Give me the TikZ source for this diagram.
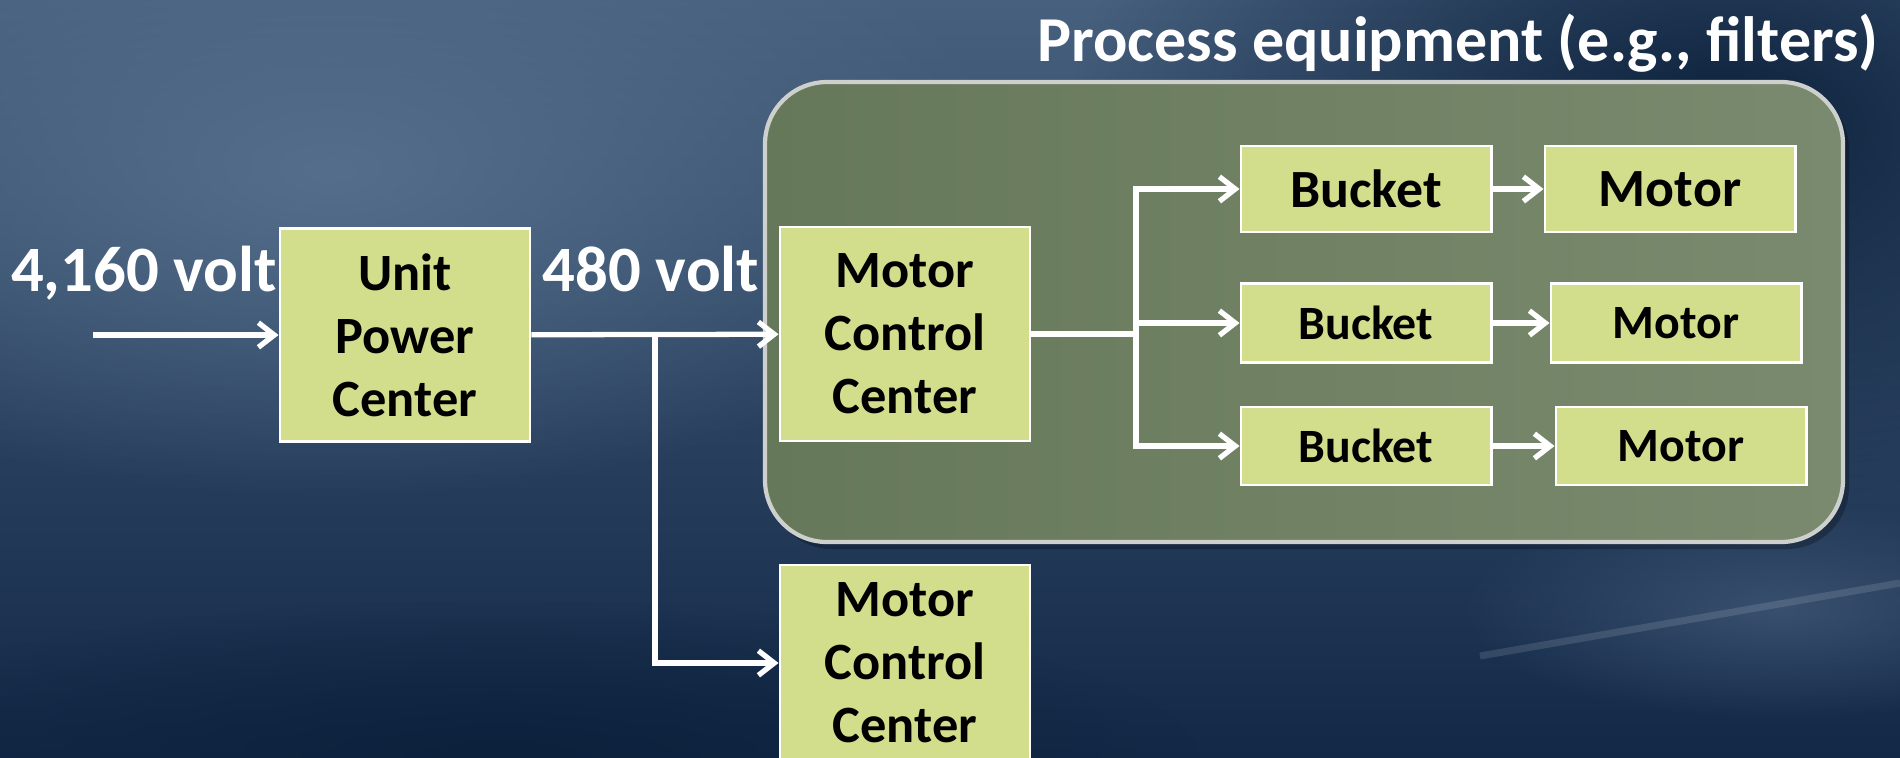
\documentclass[tikz,border=0pt]{standalone}
\usepackage{fontspec}
\setmainfont{Carlito}
\usetikzlibrary{arrows.meta,fadings}
\definecolor{bgtop}{RGB}{70,96,126}
\definecolor{bgbot}{RGB}{18,40,70}
\definecolor{bgdeep}{RGB}{12,33,60}
\definecolor{bglight}{RGB}{84,110,140}
\definecolor{paneldark}{RGB}{102,120,90}
\definecolor{panellight}{RGB}{122,138,110}
\definecolor{panelrim}{RGB}{205,208,204}
\definecolor{boxfill}{RGB}{211,222,140}
\newcommand{\boxfont}{\fontsize{14.9}{17.9}\selectfont\bfseries}
\newcommand{\smallboxfont}{\fontsize{13.6}{16}\selectfont\bfseries}
\newcommand{\voltfont}{\fontsize{18.4}{21}\selectfont\bfseries}
\newcommand{\titlefont}{\fontsize{18.2}{21}\selectfont\bfseries}
\tikzfading[name=softblob, inner color=transparent!0, outer color=transparent!100]
\tikzset{
  block/.style={draw=white, line width=0.8pt, fill=boxfill, text=black,
    align=center, inner sep=0pt, font=\boxfont, minimum width=2.5cm},
  unit/.style={block, font=\smallboxfont},
  volt/.style={text=white, font=\voltfont, inner sep=0pt, anchor=base},
  wire/.style={draw=white, line width=1.5pt},
  feed/.style={wire, -{Straight Barb[length=4.5pt,width=7pt]}}
}

\begin{document}
\begin{tikzpicture}[x=0.01cm,y=-0.01cm]
\useasboundingbox (0,0) rectangle (1900,757);
% background:
\shade[top color=bgtop, bottom color=bgbot] (0,0) rectangle (1900,757);
\fill[bglight, path fading=softblob] (330,170) ellipse (700 and 330);
\fill[bgdeep, path fading=softblob] (1720,120) ellipse (650 and 380);
\fill[bgdeep, path fading=softblob] (500,760) ellipse (700 and 160);
\fill[bglight, opacity=0.5, path fading=softblob] (1780,610) ellipse (320 and 110);
\draw[white, opacity=0.12, line width=2pt] (1480,656) -- (1900,583);
% process equipment panel:
\fill[black, opacity=0.25, rounded corners=0.62cm] (770,88) rectangle (1849,549);
\shade[left color=paneldark, right color=panellight, rounded corners=0.62cm]
  (765,82) rectangle (1843,542);
\draw[panelrim, line width=1.2pt, rounded corners=0.62cm]
  (765,82) rectangle (1843,542);
\node[text=white, font=\titlefont, inner sep=0pt, anchor=base] (title)
  at (1458,61) {Process equipment (e.g., filters)};
% blocks:
\node[block, minimum height=2.13cm] (upc) at (405,335) {Unit\\Power\\Center};
\node[block, minimum height=2.14cm] (mcc) at (905,334) {Motor\\Control\\Center};
\node[block, minimum height=1.96cm] (mccb) at (905,663) {Motor\\Control\\Center};
\node[unit, font=\fontsize{15.3}{18}\selectfont\bfseries, minimum height=0.86cm]
  (bucketa) at (1366,189) {Bucket};
\node[unit, minimum height=0.79cm] (bucketb) at (1366,323) {Bucket};
\node[unit, minimum height=0.78cm] (bucketc) at (1366,446) {Bucket};
\node[unit, font=\fontsize{15.3}{18}\selectfont\bfseries, minimum height=0.86cm]
  (motora) at (1670,189) {Motor};
\node[unit, minimum height=0.79cm] (motorb) at (1676,323) {Motor};
\node[unit, minimum height=0.78cm] (motorc) at (1681,446) {Motor};
% voltage labels:
\node[volt] (hv) at (144,291) {4,160 volt};
\node[volt] (lv) at (651,291) {480 volt};
% connectors:
\coordinate (in) at (93,335);
\coordinate (split) at (655,335);
\coordinate (fan) at (1136,334);
\draw[feed] (in) -- (upc);
\draw[feed] (upc) -- (mcc);
\draw[feed] (split) |- (mccb);
\draw[wire] (mcc) -- (fan);
\foreach \n in {a,b,c}
  \draw[feed] (fan) |- (bucket\n);
\foreach \n in {a,b,c}
  \draw[feed] (bucket\n) -- (motor\n);
\end{tikzpicture}
\end{document}
